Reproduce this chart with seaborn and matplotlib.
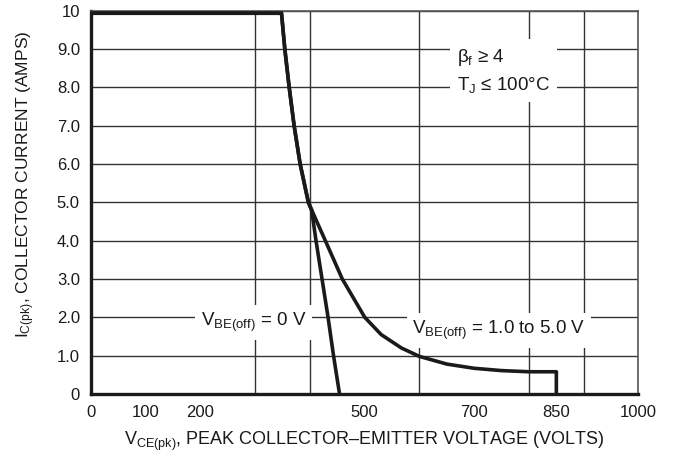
import matplotlib
matplotlib.use("Agg")
import matplotlib.pyplot as plt
import seaborn as sns
import pandas as pd

# reverse bias safe operating area
vce_zero = [0, 348, 354, 362, 371, 382, 397, 403, 411, 422, 433, 443, 454]
ic_zero = [9.93, 9.93, 9.0, 8.0, 7.0, 6.0, 5.0, 4.8, 4.0, 3.0, 2.0, 1.0, 0.0]

vce_neg = [0, 348, 354, 362, 371, 382, 397, 403, 428, 459, 500, 530, 567, 600, 650, 700, 750, 800, 850, 850]
ic_neg = [9.93, 9.93, 9.0, 8.0, 7.0, 6.0, 5.0, 4.8, 4.0, 3.0, 2.0, 1.55, 1.2, 0.98, 0.78, 0.67, 0.61, 0.58, 0.58, 0.0]

x_ticks = [0, 100, 200, 500, 700, 850, 1000]
x_grid = list(range(0, 1001, 100))
y_ticks = list(range(0, 11))
y_ticklabels = ["0", "1.0", "2.0", "3.0", "4.0", "5.0", "6.0", "7.0", "8.0", "9.0", "10"]

sns.set_style("white")
fonts = ["Liberation Sans Narrow", "Liberation Sans", "DejaVu Sans"]
plt.rcParams["font.family"] = fonts
plt.rcParams["mathtext.fontset"] = "custom"
plt.rcParams["mathtext.rm"] = "Liberation Sans"
plt.rcParams["mathtext.it"] = "Liberation Sans:italic"
plt.rcParams["mathtext.bf"] = "Liberation Sans:bold"

fig = plt.figure(figsize=(6.78, 4.65), dpi=100)
ax = fig.add_axes([0.1342, 0.1527, 0.8075, 0.8246])

df0 = pd.DataFrame({"vce": vce_zero, "ic": ic_zero})
df1 = pd.DataFrame({"vce": vce_neg, "ic": ic_neg})
line_kw = dict(sort=False, estimator=None, color="#1a1a1a", lw=2.6, ax=ax, zorder=3)
sns.lineplot(data=df0, x="vce", y="ic", **line_kw)
sns.lineplot(data=df1, x="vce", y="ic", **line_kw)
for ln in ax.lines:
    ln.set_solid_joinstyle("round")

ax.set_xlim(0, 1000)
ax.set_ylim(0, 10)
ax.set_xticks(x_ticks)
ax.set_xticks(x_grid, minor=True)
ax.set_yticks(y_ticks)
ax.set_yticklabels(y_ticklabels)
ax.grid(False)
ax.grid(which="minor", axis="x", color="#333333", lw=1.0)
ax.grid(which="major", axis="y", color="#333333", lw=1.0)
ax.tick_params(which="both", length=0, labelsize=12, colors="#1a1a1a")
ax.tick_params(axis="x", pad=8)
ax.tick_params(axis="y", pad=8)

for side in ["left", "bottom"]:
    ax.spines[side].set_linewidth(2.4)
    ax.spines[side].set_color("#1a1a1a")
for side in ["top", "right"]:
    ax.spines[side].set_linewidth(1.2)
    ax.spines[side].set_color("#555555")

ax.set_xlabel(r"$\mathregular{V_{CE(pk)}}$, PEAK COLLECTOR–EMITTER VOLTAGE (VOLTS)", fontsize=13, color="#1a1a1a", labelpad=7)
ax.set_ylabel(r"$\mathregular{I_{C(pk)}}$, COLLECTOR CURRENT (AMPS)", fontsize=12.5, color="#1a1a1a")
ax.yaxis.set_label_coords(-0.098, 0.548)

box = dict(facecolor="white", edgecolor="none", pad=4)
ax.text(201, 1.87, r"$\mathregular{V_{BE(off)}}$ = 0 V", fontsize=13.5, va="center", ha="left", bbox=box, zorder=2, color="#1a1a1a")
ax.text(587, 1.66, r"$\mathregular{V_{BE(off)}}$ = 1.0 to 5.0 V", fontsize=13.5, va="center", ha="left", bbox=box, zorder=2, color="#1a1a1a")
ax.text(668, 8.42, "β$\\mathregular{_f}$ ≥ 4\nT$\\mathregular{_J}$ ≤ 100°C", fontsize=13.5, va="center", ha="left",
        linespacing=1.5, bbox=dict(facecolor="white", edgecolor="none", pad=5), zorder=2, color="#1a1a1a")

fig.savefig("out.png", dpi=100)
